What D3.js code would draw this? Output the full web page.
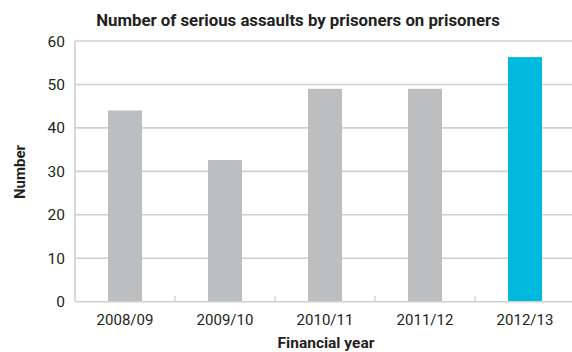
<!DOCTYPE html>
<html><head><meta charset="utf-8">
<script src="https://cdn.jsdelivr.net/npm/d3@7"></script>
<style>body{margin:0;background:#fff}svg{display:block;font-family:Roboto,"DejaVu Sans",sans-serif}</style>
</head><body><svg id="c" width="572" height="352"></svg>
<script>
const categories = ["2008/09","2009/10","2010/11","2011/12","2012/13"];
const values = [44, 32.6, 49, 49, 56.3];
const barColors = ["#bcbec0","#bcbec0","#bcbec0","#bcbec0","#00b9dc"];
const yTicks = [0,10,20,30,40,50,60];

const svg = d3.select("#c");
const L = 75, R = 575, T = 41, B = 301.7;
const x = d3.scaleBand().domain(categories).range([L, R]).paddingInner(0.66).paddingOuter(0.33);
const xs = d3.scaleBand().domain(categories).range([L, R]);
const y = d3.scaleLinear().domain([0,60]).range([B, T]);

// gridlines
svg.append("g").selectAll("line").data(yTicks.filter(d=>d>0)).join("line")
  .attr("x1", L).attr("x2", 572).attr("y1", d=>y(d)).attr("y2", d=>y(d))
  .attr("stroke", "#cfd0d1").attr("stroke-width", 1.6);

// bars
svg.append("g").selectAll("rect").data(values).join("rect")
  .attr("x", (d,i)=>x(categories[i])).attr("width", x.bandwidth())
  .attr("y", d=>y(d)).attr("height", d=>B - y(d))
  .attr("fill", (d,i)=>barColors[i]);

// y axis line
svg.append("line").attr("x1", L).attr("x2", L).attr("y1", T).attr("y2", B)
  .attr("stroke", "#cfd0d1").attr("stroke-width", 1.6);
// x baseline
svg.append("line").attr("x1", L).attr("x2", 572).attr("y1", B).attr("y2", B)
  .attr("stroke", "#cfd0d1").attr("stroke-width", 1.6);
// x ticks (pointing up) at band boundaries
svg.append("g").selectAll("line").data(categories.slice(1)).join("line")
  .attr("x1", d=>xs(d)).attr("x2", d=>xs(d)).attr("y1", B).attr("y2", B-6)
  .attr("stroke", "#cfd0d1").attr("stroke-width", 1.4);

// y tick labels
svg.append("g").selectAll("text").data(yTicks).join("text")
  .attr("x", 65).attr("y", d=>y(d)).attr("dy", "0.36em")
  .attr("text-anchor", "end").attr("font-size", 15.5).attr("fill", "#231f20")
  .text(d=>d);

// x tick labels
svg.append("g").selectAll("text").data(categories).join("text")
  .attr("x", d=>xs(d)+xs.bandwidth()/2).attr("y", 325)
  .attr("text-anchor", "middle").attr("font-size", 15).attr("fill", "#231f20")
  .text(d=>d);

// title
svg.append("text").attr("x", 298).attr("y", 26).attr("text-anchor", "middle")
  .attr("font-size", 16.8).attr("font-weight", "bold").attr("fill", "#231f20")
  .text("Number of serious assaults by prisoners on prisoners");

// axis titles
svg.append("text").attr("x", 326).attr("y", 348).attr("text-anchor", "middle")
  .attr("font-size", 15.5).attr("font-weight", "bold").attr("fill", "#231f20")
  .text("Financial year");
svg.append("text").attr("transform", "translate(25,172) rotate(-90)").attr("text-anchor", "middle")
  .attr("font-size", 15).attr("font-weight", "bold").attr("fill", "#231f20")
  .text("Number");
</script></body></html>
